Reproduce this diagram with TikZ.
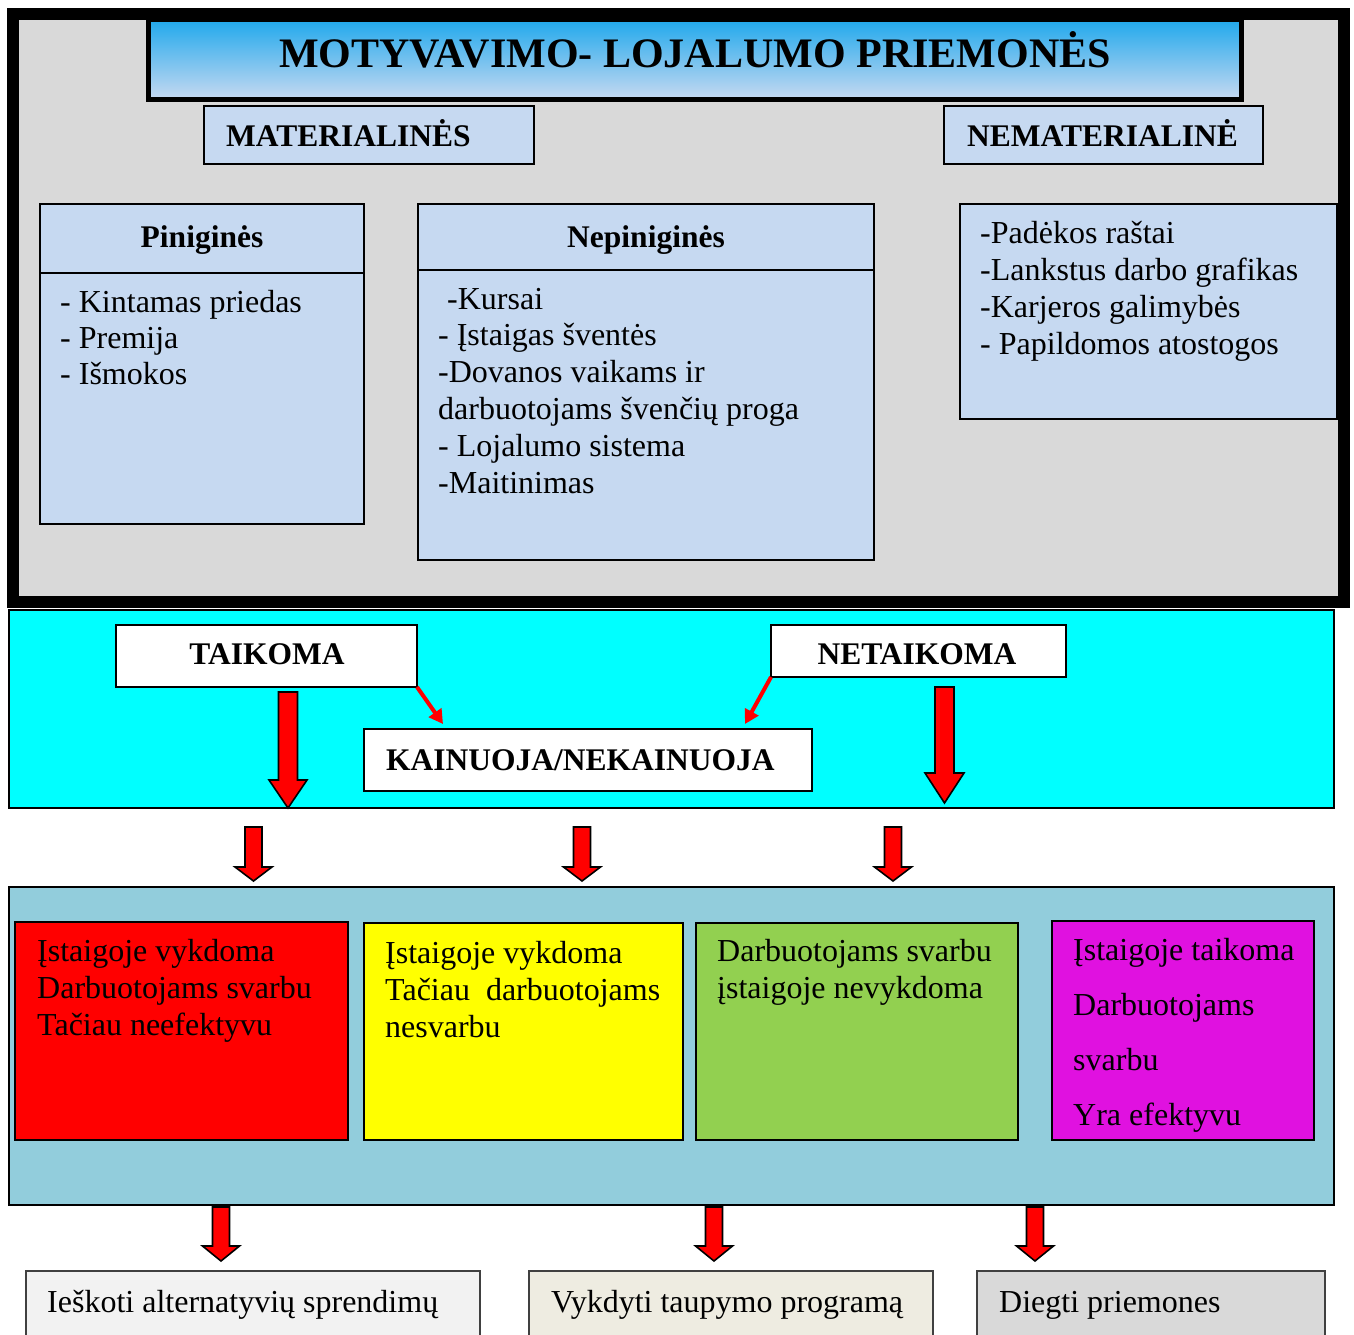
\documentclass[tikz,border=0pt]{standalone}
\usepackage{fontspec}
\setmainfont{Liberation Serif}
\usetikzlibrary{arrows.meta}
\definecolor{frameGray}{HTML}{D9D9D9}
\definecolor{paleBlue}{HTML}{C6D9F1}
\definecolor{titleTop}{HTML}{1FA8EC}
\definecolor{cyanBox}{HTML}{00FFFF}
\definecolor{tealBox}{HTML}{92CDDC}
\definecolor{redBox}{HTML}{FF0000}
\definecolor{yellowBox}{HTML}{FFFF00}
\definecolor{greenBox}{HTML}{92D050}
\definecolor{magentaBox}{HTML}{E011E0}
\definecolor{outA}{HTML}{F2F2F2}
\definecolor{outB}{HTML}{EEECE1}
\definecolor{outC}{HTML}{D9D9D9}
\newcommand{\blkarrow}[6]{%
  \draw[blockarrow] (#1-#4,#2) -- (#1+#4,#2) -- (#1+#4,#3-#6) -- (#1+#5,#3-#6)
    -- (#1,#3) -- (#1-#5,#3-#6) -- (#1-#4,#3-#6) -- cycle;}
\begin{document}
\begin{tikzpicture}[x=1pt,y=-1pt,
  panel/.style={draw=black, line width=1.8pt, inner sep=0, outer sep=0, anchor=north west},
  txt/.style={font=\fontsize{32}{37}\selectfont, inner sep=0, align=left, anchor=base west},
  hdr/.style={font=\bfseries\fontsize{31.5}{37}\selectfont, inner sep=0},
  blockarrow/.style={fill=red, draw=black, line width=1.6pt, line join=miter},
  thinarrow/.style={draw=red, line width=4pt, -{Triangle[length=14pt,width=15pt]}}]
\useasboundingbox (0,0) rectangle (1354,1334);
\fill[white] (0,0) rectangle (1354,1334);

% ---------- top frame ----------
\node[panel, fill=frameGray, line width=12pt, minimum width=1331, minimum height=588] (frame) at (13,14) {};
\node[panel, line width=5pt, top color=titleTop, bottom color=paleBlue, minimum width=1093, minimum height=80] (title) at (148,19) {};
\node[hdr, font=\bfseries\fontsize{42}{48}\selectfont, anchor=base] (titletxt) at (695,67) {MOTYVAVIMO- LOJALUMO PRIEMONĖS};

\node[panel, fill=paleBlue, minimum width=330, minimum height=58] (mat) at (204,106) {};
\node[hdr, anchor=base west] (mattxt) at (226,146) {MATERIALINĖS};
\node[panel, fill=paleBlue, minimum width=319, minimum height=58] (nemat) at (944,106) {};
\node[hdr, anchor=base west] (nemattxt) at (967,146) {NEMATERIALINĖ};

% Piniginės (text nodes anchored at the baseline of their last line)
\node[panel, fill=paleBlue, minimum width=324, minimum height=320] (pin) at (40,204) {};
\draw[line width=1.8pt] (40,273) -- (364,273);
\node[hdr, anchor=base] (pinhdr) at (202,247) {Piniginės};
\node[txt, font=\fontsize{32}{36}\selectfont] (pintxt) at (60,384) {- Kintamas priedas\\- Premija\\- Išmokos};

% Nepiniginės
\node[panel, fill=paleBlue, minimum width=456, minimum height=356] (nepin) at (418,204) {};
\draw[line width=1.8pt] (418,270) -- (874,270);
\node[hdr, anchor=base] (nepinhdr) at (646,247) {Nepiniginės};
\node[txt, font=\fontsize{32}{36.8}\selectfont] (nepintxt) at (438,493) {\hspace*{9pt}-Kursai\\- Įstaigas šventės\\-Dovanos vaikams ir\\darbuotojams švenčių proga\\- Lojalumo sistema\\-Maitinimas};

% Nematerialinė list
\node[panel, fill=paleBlue, minimum width=377, minimum height=215] (nemlist) at (960,204) {};
\node[txt] (nemlisttxt) at (980,354) {-Padėkos raštai\\-Lankstus darbo grafikas\\-Karjeros galimybės\\- Papildomos atostogos};

% ---------- cyan band ----------
\node[panel, fill=cyanBox, line width=1.5pt, minimum width=1325, minimum height=198] (band) at (9,610) {};
\node[panel, fill=white, minimum width=301, minimum height=62] (taik) at (116,625) {};
\node[hdr, anchor=base] (taiktxt) at (267,664) {TAIKOMA};
\node[panel, fill=white, minimum width=295, minimum height=52] (netaik) at (771,625) {};
\node[hdr, anchor=base] (netaiktxt) at (917,664) {NETAIKOMA};
\node[panel, fill=white, minimum width=448, minimum height=62] (kain) at (364,729) {};
\node[hdr, anchor=base west] (kaintxt) at (386,770) {KAINUOJA/NEKAINUOJA};

\coordinate (tipL) at (443,724);
\coordinate (tipR) at (745,724);
\draw[thinarrow] (taik.south east) -- (tipL);
\draw[thinarrow] (netaik.south west) -- (tipR);

\blkarrow{288}{692}{808}{9.5}{19}{28}
\blkarrow{944.5}{687}{803}{9.5}{19.5}{30}

% middle arrows
\blkarrow{253.5}{827}{881}{8.5}{18.5}{14}
\blkarrow{582}{827}{881}{8.5}{18.5}{14}
\blkarrow{893}{827}{881}{8.5}{18.5}{14}

% ---------- teal band ----------
\node[panel, fill=tealBox, line width=1.5pt, minimum width=1325, minimum height=318] (teal) at (9,887) {};
\node[panel, fill=redBox, minimum width=333, minimum height=218] (bred) at (15,922) {};
\node[txt] (bredtxt) at (37,1035) {Įstaigoje vykdoma\\Darbuotojams svarbu\\Tačiau neefektyvu};
\node[panel, fill=yellowBox, minimum width=319, minimum height=217] (byel) at (364,923) {};
\node[txt] (byeltxt) at (385,1037) {Įstaigoje vykdoma\\Tačiau~ darbuotojams\\nesvarbu};
\node[panel, fill=greenBox, minimum width=322, minimum height=217] (bgrn) at (696,923) {};
\node[txt] (bgrntxt) at (717,998) {Darbuotojams svarbu\\įstaigoje nevykdoma};
\node[panel, fill=magentaBox, minimum width=262, minimum height=219] (bmag) at (1052,921) {};
\node[txt, font=\fontsize{32}{54.7}\selectfont] (bmagtxt) at (1073,1125) {Įstaigoje taikoma\\Darbuotojams\\svarbu\\Yra efektyvu};

% bottom arrows
\blkarrow{221}{1207}{1261}{8.5}{18.5}{15}
\blkarrow{714}{1207}{1261}{8.5}{18.5}{15}
\blkarrow{1035}{1207}{1261}{8.5}{18.5}{15}

% ---------- bottom boxes ----------
\node[panel, fill=outA, draw=black!75, line width=1.5pt, minimum width=454, minimum height=80] (outa) at (26,1271) {};
\node[txt] (outatxt) at (47,1312) {Ieškoti alternatyvių sprendimų};
\node[panel, fill=outB, draw=black!75, line width=1.5pt, minimum width=404, minimum height=80] (outb) at (529,1271) {};
\node[txt] (outbtxt) at (551,1312) {Vykdyti taupymo programą};
\node[panel, fill=outC, draw=black!75, line width=1.5pt, minimum width=348, minimum height=80] (outc) at (977,1271) {};
\node[txt] (outctxt) at (999,1312) {Diegti priemones};
\end{tikzpicture}
\end{document}
